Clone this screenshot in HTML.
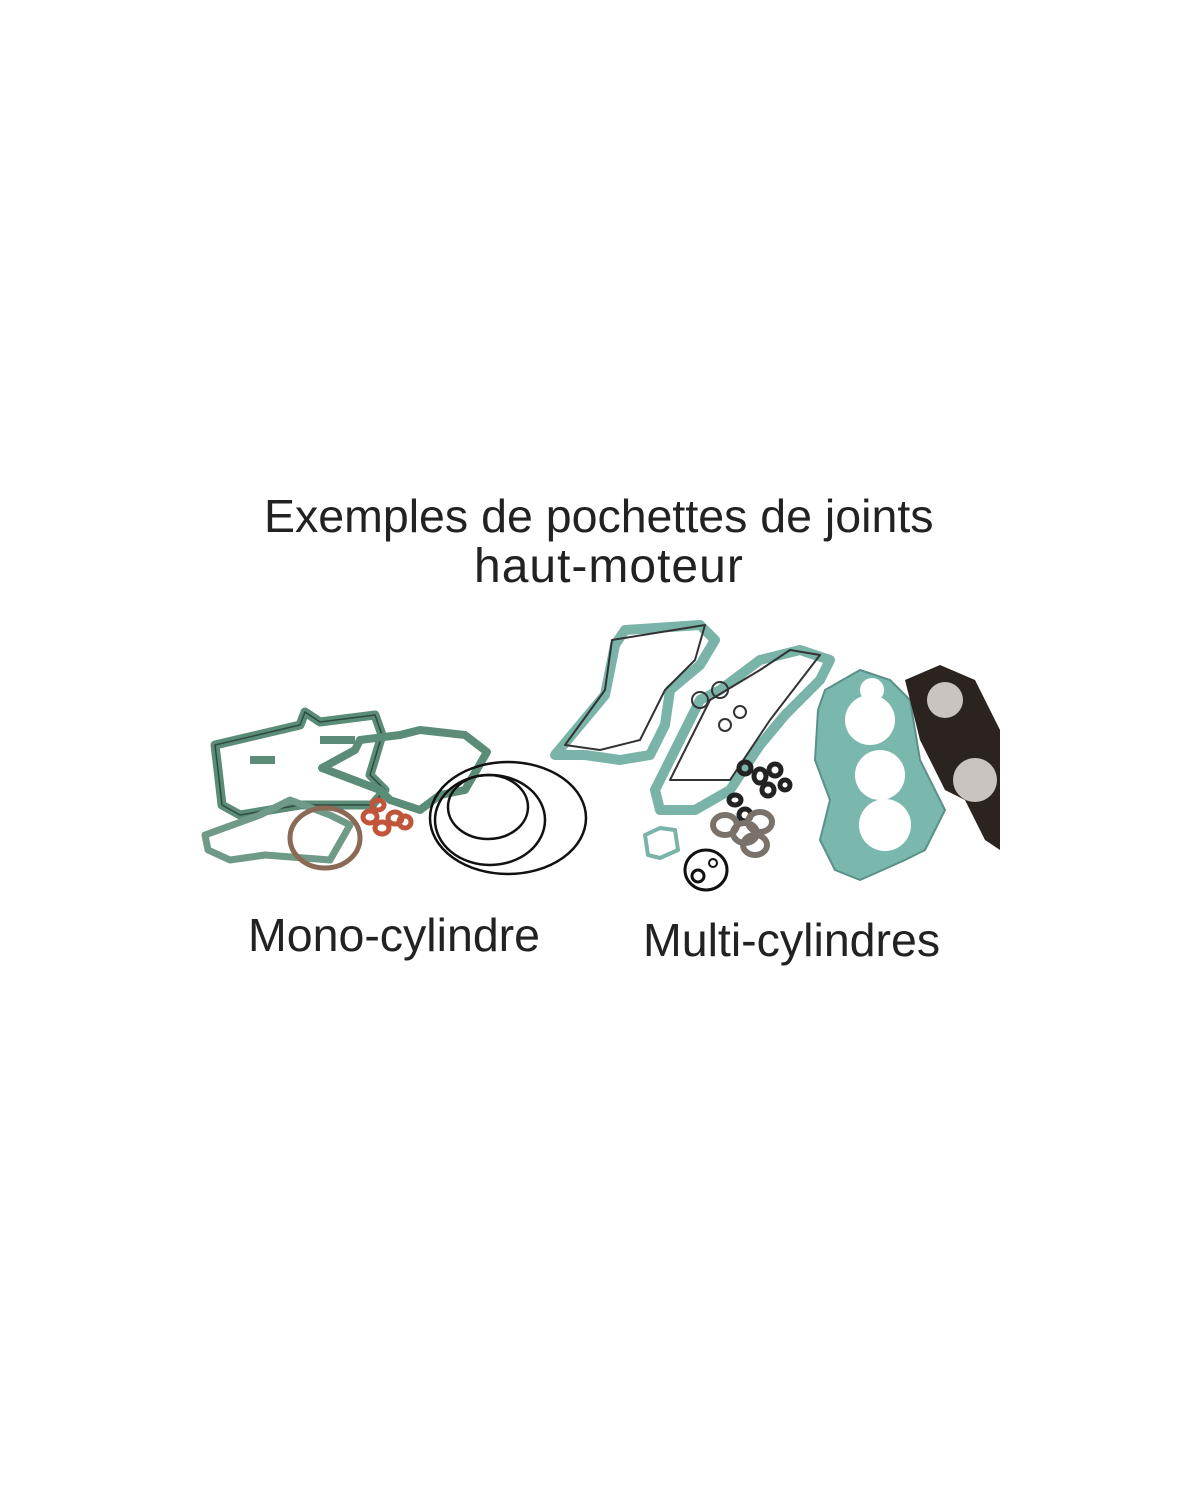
<!DOCTYPE html>
<html><head><style>
html,body{margin:0;padding:0;background:#fff;width:1200px;height:1500px;overflow:hidden;position:relative;font-family:"Liberation Sans",Arial,sans-serif;color:#222}
.t{position:absolute;white-space:nowrap;font-size:46.5px;line-height:1}
</style></head><body>
<div class="t" style="left:264px;top:493px;">Exemples de pochettes de joints</div>
<div class="t" style="left:474px;top:543px;font-size:48px;letter-spacing:1px">haut-moteur</div>
<div class="t" style="left:248px;top:912px;">Mono-cylindre</div>
<div class="t" style="left:643px;top:917px;">Multi-cylindres</div>
<svg width="1200" height="1500" style="position:absolute;left:0;top:0">
<g fill="none" stroke-linejoin="round">
<path d="M215 745 L300 725 L305 712 L320 722 L375 715 L382 735 L370 775 L385 790 L372 805 L300 805 L240 815 L222 805 L218 770 Z" stroke="#5a8c78" stroke-width="9"/>
<path d="M215 745 L300 725 L305 712 L320 722 L375 715 L382 735 L370 775 L385 790 L372 805 L300 805 L240 815 L222 805 L218 770 Z" stroke="#2f4a40" stroke-width="1.5"/>
<path d="M320 740 L355 740 M250 760 L275 760" stroke="#5a8c78" stroke-width="8"/>
<path d="M322 768 L355 750 L360 740 L400 735 L420 730 L465 735 L487 752 L465 790 L440 795 L420 810 L390 800 L380 790 Z" stroke="#5a8c78" stroke-width="8"/>
<path d="M205 835 L260 815 L290 800 L330 815 L350 825 L330 860 L265 855 L230 860 L208 850 Z" stroke="#6f9a88" stroke-width="7"/>
<ellipse cx="325" cy="838" rx="35" ry="30" stroke="#8a6a55" stroke-width="5"/>
<g stroke="#c0553a" stroke-width="5"><ellipse cx="370" cy="817" rx="7" ry="6"/><ellipse cx="382" cy="828" rx="7" ry="6"/><ellipse cx="395" cy="818" rx="7" ry="6"/><ellipse cx="405" cy="822" rx="6" ry="6"/><ellipse cx="378" cy="805" rx="6" ry="5"/></g>
<ellipse cx="508" cy="818" rx="78" ry="56" stroke="#111" stroke-width="2.5"/>
<ellipse cx="490" cy="820" rx="55" ry="45" stroke="#111" stroke-width="2.5"/>
<ellipse cx="488" cy="807" rx="40" ry="32" stroke="#111" stroke-width="2.5"/>
<path d="M555 755 L605 695 L615 645 L625 630 L700 625 L715 640 L700 665 L670 690 L665 725 L650 755 L620 760 L585 755 Z" stroke="#7ab3a8" stroke-width="10"/>
<path d="M565 745 L605 690 L612 640 L705 625 L695 660 L665 690 L640 740 L600 750 Z" stroke="#333" stroke-width="2"/>
<path d="M655 790 L700 700 L720 690 L760 660 L800 650 L830 660 L820 680 L785 715 L760 745 L730 790 L695 810 L660 810 Z" stroke="#7ab3a8" stroke-width="10"/>
<path d="M670 780 L710 700 L760 670 L790 650 L820 655 L770 720 L730 780 Z" stroke="#333" stroke-width="2"/>
<g stroke="#333" stroke-width="2"><circle cx="700" cy="700" r="8"/><circle cx="720" cy="690" r="8"/><circle cx="740" cy="712" r="6"/><circle cx="725" cy="725" r="6"/></g>
<path d="M645 835 L660 828 L675 830 L678 850 L660 858 L648 855 Z" stroke="#7ab3a8" stroke-width="4"/>
<g stroke="#222" stroke-width="5"><ellipse cx="745" cy="768" rx="6" ry="6"/><ellipse cx="760" cy="776" rx="6" ry="7"/><ellipse cx="775" cy="770" rx="6" ry="6"/><ellipse cx="768" cy="790" rx="6" ry="6"/><ellipse cx="785" cy="785" rx="5" ry="5"/><ellipse cx="735" cy="800" rx="6" ry="5"/><ellipse cx="745" cy="815" rx="6" ry="6"/></g>
<g stroke="#7a726a" stroke-width="6"><ellipse cx="725" cy="825" rx="12" ry="10"/><ellipse cx="745" cy="833" rx="12" ry="10"/><ellipse cx="760" cy="822" rx="12" ry="10"/><ellipse cx="755" cy="845" rx="12" ry="10"/></g>
<ellipse cx="706" cy="870" rx="21" ry="20" stroke="#111" stroke-width="3"/>
<circle cx="698" cy="876" r="6" stroke="#111" stroke-width="3"/>
<circle cx="713" cy="863" r="4" stroke="#111" stroke-width="2"/>
<path d="M825 690 L860 670 L890 680 L910 700 L920 760 L945 810 L925 850 L905 860 L860 880 L835 870 L820 840 L830 800 L815 760 L818 710 Z" fill="#7ab8ae" stroke="#5a9088" stroke-width="2"/>
<g fill="#fff"><circle cx="870" cy="720" r="25"/><circle cx="880" cy="775" r="25"/><circle cx="885" cy="825" r="26"/><circle cx="872" cy="690" r="12"/></g>
<path d="M905 680 L940 665 L975 680 L1000 730 L1000 850 L985 840 L965 800 L945 790 L920 740 Z" fill="#2a2320"/>
<g fill="#c9c4bf"><circle cx="945" cy="700" r="18"/><circle cx="975" cy="780" r="22"/></g>
</g>
</svg>
</body></html>
